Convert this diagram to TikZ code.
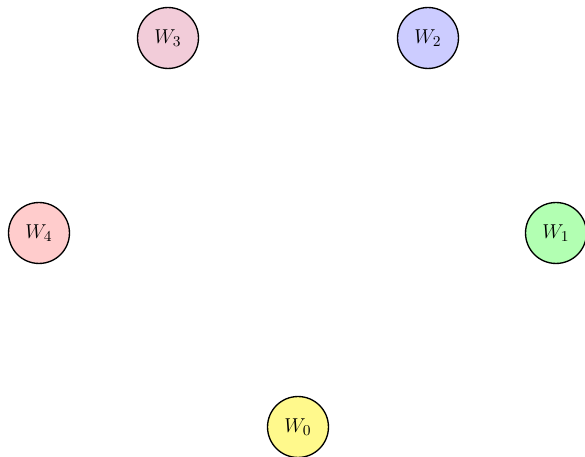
\documentclass[tikz,border=0pt]{standalone}
\usepackage{xcolor}
\usepackage{tikz}
\usetikzlibrary{positioning}

\tikzset{
  worker/.style={circle, draw=black, thick, minimum size=1.28cm, inner sep=0pt,
                 font=\fontsize{12.7}{15}\selectfont}
}

\begin{document}
\begin{tikzpicture}
    \useasboundingbox (0,0) rectangle (12.285,9.597);
    \node[worker, fill=yellow!45] (w0) at (6.258,0.63) {$W_0$};
    \node[worker, fill=green!30] (w1) at (11.676,4.704) {$W_1$};
    \node[worker, fill=blue!20] (w2) at (8.988,8.799) {$W_2$};
    \node[worker, fill=purple!20] (w3) at (3.528,8.799) {$W_3$};
    \node[worker, fill=red!20] (w4) at (0.819,4.704) {$W_4$};
  \end{tikzpicture}
\end{document}
